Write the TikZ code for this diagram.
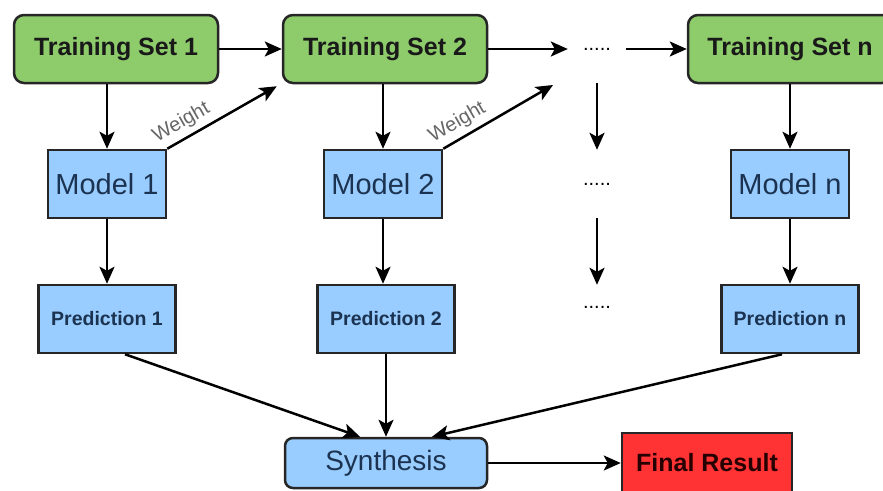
\documentclass[tikz,border=0pt]{standalone}
\usepackage{fontspec}
\setmainfont{Liberation Sans}
\usepackage{xcolor}
\usetikzlibrary{positioning,calc,arrows.meta}

\definecolor{setgreen}{HTML}{8DCB6B}
\definecolor{boxblue}{HTML}{99CCFF}
\definecolor{resred}{HTML}{FF3333}
\definecolor{navytext}{HTML}{1B3350}

\tikzset{
  trainbox/.style={draw=black!85, fill=setgreen, rounded corners=10pt, line width=2.5pt,
    minimum width=204pt, minimum height=68pt, text=black!90,
    font=\fontsize{25}{30}\selectfont\bfseries},
  modelbox/.style={draw=black!85, fill=boxblue, line width=2.5pt,
    minimum width=118pt, minimum height=68pt, text=navytext,
    font=\fontsize{29}{34}\selectfont},
  predbox/.style={draw=black!85, fill=boxblue, line width=2.5pt,
    minimum width=137pt, minimum height=68pt, text=navytext,
    font=\fontsize{19.5}{24}\selectfont\bfseries},
  dotsnode/.style={minimum width=58pt, inner sep=0pt, font=\fontsize{20}{24}\selectfont},
  arr/.style={-{Stealth[length=17pt,width=15pt,inset=4pt]}, line width=2.5pt},
  weightlbl/.style={sloped, above=4pt, inner sep=1pt, text=black!60, font=\fontsize{20}{24}\selectfont}
}

\begin{document}
\begin{tikzpicture}[x=1pt,y=-1pt]
    \useasboundingbox (0,0) rectangle (883,490);
    \clip (0,0) rectangle (883,490);

    \node[trainbox] (ts1) at (116,49) {Training Set 1};
    \node[trainbox] (ts2) at (385,49) {Training Set 2};
    \node[trainbox] (tsn) at (790,49) {Training Set n};
    \node[dotsnode, minimum height=68pt] (d1) at (597,49) {.....};

    \node[modelbox] (m1) at (107,184) {Model 1};
    \node[modelbox] (m2) at (383,184) {Model 2};
    \node[modelbox] (mn) at (790,184) {Model n};
    \node[dotsnode, minimum height=68pt] (d2) at (597,184) {.....};

    \node[predbox] (p1) at (107,319) {Prediction 1};
    \node[predbox] (p2) at (386,319) {Prediction 2};
    \node[predbox] (pn) at (790,319) {Prediction n};
    \node[dotsnode, minimum height=44pt] (d3) at (597,307) {.....};

    \node[draw=black!85, fill=boxblue, rounded corners=8pt, line width=2.5pt,
          minimum width=202pt, minimum height=50pt, text=navytext,
          font=\fontsize{28}{32}\selectfont] (syn) at (386,463) {Synthesis};
    \node[draw=black!85, fill=resred, line width=2.5pt, minimum width=170pt,
          minimum height=60pt, text=black!85!red,
          font=\fontsize{25}{30}\selectfont\bfseries] (fin) at (707,463) {Final Result};

    \coordinate (w2) at (553,85);

    \draw[arr] (ts1) -- (ts2);
    \draw[arr] (ts2) -- (d1);
    \draw[arr] (d1) -- (tsn);

    \draw[arr] (m1.north |- ts1.south) -- (m1.north);
    \draw[arr] (m2.north |- ts2.south) -- (m2.north);
    \draw[arr] (tsn) -- (mn);
    \draw[arr] (d1) -- (d2);
    \draw[arr] (d2) -- (d3);

    \draw[arr] (m1.north east) -- ($(ts2.south west)+(-5,2)$) node[weightlbl, pos=0.2]{Weight};
    \draw[arr] (m2.north east) -- (w2) node[weightlbl, pos=0.2]{Weight};

    \draw[arr] (m1) -- (p1);
    \draw[arr] (m2.south) -- (m2.south |- p2.north);
    \draw[arr] (mn) -- (pn);

    \draw[arr] ([xshift=18pt]p1.south) -- ([xshift=-26pt]syn.north);
    \draw[arr] (p2) -- (syn);
    \draw[arr] ([xshift=-8pt]pn.south) -- ([xshift=46pt]syn.north);
    \draw[arr] (syn) -- (fin);
\end{tikzpicture}
\end{document}
